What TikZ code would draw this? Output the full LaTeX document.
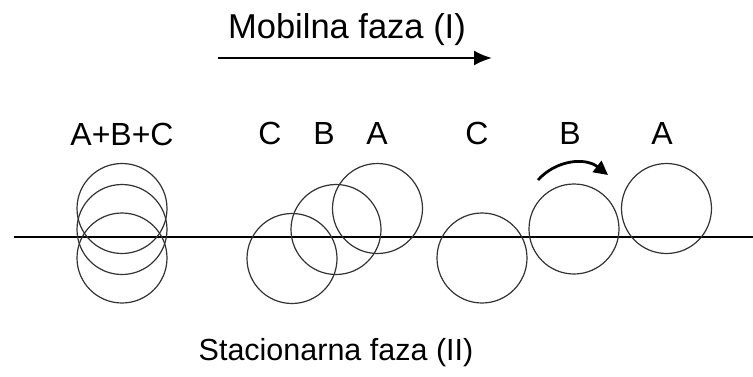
\documentclass[tikz,border=0pt]{standalone}
\usepackage{fontspec}
\setmainfont{Liberation Sans}
\usetikzlibrary{arrows.meta}
\begin{document}
\begin{tikzpicture}[x=1pt,y=-1pt,
  blob/.style={draw=black!80,line width=1.2pt,circle,minimum size=90pt,inner sep=0pt},
  lbl/.style={font=\fontsize{32}{38}\selectfont,inner sep=0pt,anchor=center},
  ttl/.style={font=\fontsize{33}{39}\selectfont,inner sep=0pt,anchor=center}]
\useasboundingbox (0,0) rectangle (753,376);
% titles
\node[ttl,font=\fontsize{34.5}{40}\selectfont] (mob) at (347,30) {Mobilna faza (I)};
\coordinate (m1) at (218,58);
\coordinate (m2) at (492,58);
\draw[line width=2.2pt,-{Latex[length=18pt,width=15pt]}] (m1) -- (m2);
\node[ttl,font=\fontsize{30.5}{37}\selectfont] (sta) at (336,353) {Stacionarna faza (II)};
% baseline
\coordinate (l1) at (14,237);
\coordinate (l2) at (753,237);
\draw[line width=2.2pt] (l1) -- (l2);
% group 1
\node[lbl] (abc) at (122,134) {A+B+C};
\node[blob] (g1a) at (122,208.5) {};
\node[blob] (g1b) at (122,229.5) {};
\node[blob] (g1c) at (122,258) {};
% group 2
\node[lbl] (c2) at (270,133) {C};
\node[lbl] (b2) at (324,133) {B};
\node[lbl] (a2) at (377,133) {A};
\node[blob] (g2c) at (292,258.5) {};
\node[blob] (g2b) at (336,229.5) {};
\node[blob] (g2a) at (377.5,208.5) {};
% group 3
\node[lbl] (c3) at (477,133) {C};
\node[lbl] (b3) at (570,133) {B};
\node[lbl] (a3) at (662,133) {A};
\node[blob] (g3c) at (482,258) {};
\node[blob] (g3b) at (574,229) {};
\node[blob] (g3a) at (666.5,208.5) {};
% curved arrow
\coordinate (r1) at (538,180);
\coordinate (r2) at (608,175);
\draw[line width=2.8pt,-{Triangle[length=14pt,width=14pt]}] (r1) .. controls (556,160) and (585,157) .. (r2);
\end{tikzpicture}
\end{document}
